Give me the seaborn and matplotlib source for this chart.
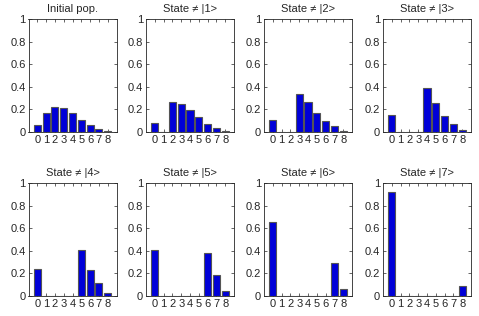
import numpy as np
import pandas as pd
import seaborn as sns
import matplotlib
matplotlib.use("Agg")
import matplotlib.pyplot as plt

# %% data
states = [0, 1, 2, 3, 4, 5, 6, 7, 8]
titles = ["Initial pop.", "State \u2260 |1>", "State \u2260 |2>", "State \u2260 |3>",
          "State \u2260 |4>", "State \u2260 |5>", "State \u2260 |6>", "State \u2260 |7>"]

initial_pop = [0.066, 0.165, 0.217, 0.209, 0.165, 0.106, 0.062, 0.030, 0.011]
not_1 = [0.080, 0.0, 0.262, 0.250, 0.194, 0.130, 0.074, 0.038, 0.012]
not_2 = [0.103, 0.0, 0.0, 0.332, 0.262, 0.170, 0.097, 0.050, 0.012]
not_3 = [0.150, 0.0, 0.0, 0.0, 0.385, 0.253, 0.141, 0.070, 0.020]
not_4 = [0.241, 0.0, 0.0, 0.0, 0.0, 0.409, 0.226, 0.115, 0.026]
not_5 = [0.406, 0.0, 0.0, 0.0, 0.0, 0.0, 0.382, 0.185, 0.044]
not_6 = [0.653, 0.0, 0.0, 0.0, 0.0, 0.0, 0.0, 0.294, 0.065]
not_7 = [0.918, 0.0, 0.0, 0.0, 0.0, 0.0, 0.0, 0.0, 0.088]

series = [initial_pop, not_1, not_2, not_3, not_4, not_5, not_6, not_7]

# %% layout
sns.set_style("ticks")
plt.rcParams['font.family'] = ['Liberation Sans', 'DejaVu Sans']

W, H = 479, 316
fig = plt.figure(figsize=(W / 100, H / 100), dpi=100)

lefts = [28.5, 146, 264, 383]
tops = [19, 183]
ax_w, ax_h = 88, 113

for i, (title, values) in enumerate(zip(titles, series)):
    row, col = divmod(i, 4)
    x0 = lefts[col] / W
    y0 = 1 - (tops[row] + ax_h) / H
    ax = fig.add_axes([x0, y0, ax_w / W, ax_h / H])

    df = pd.DataFrame({'state': states, 'prob': values})
    sns.barplot(data=df, x='state', y='prob', color='#0000d8', saturation=1,
                edgecolor='#555555', linewidth=0.8, width=0.8, ax=ax)

    ax.set_xlim(-1, 9)
    ax.set_ylim(0, 1)
    ax.set_yticks([0, 0.2, 0.4, 0.6, 0.8, 1])
    ax.set_yticklabels(['0', '0.2', '0.4', '0.6', '0.8', '1'])
    ax.set_xticks(range(len(states)))
    ax.set_xticklabels([str(s) for s in states])
    ax.tick_params(direction='in', top=True, right=True, length=2,
                   width=0.5, labelsize=8, pad=2)
    for side in ax.spines.values():
        side.set_visible(True)
        side.set_linewidth(0.6)
    ax.set_xlabel('')
    ax.set_ylabel('')
    ax.set_title(title, fontsize=8, pad=5)

fig.savefig('out.png', dpi=100)
